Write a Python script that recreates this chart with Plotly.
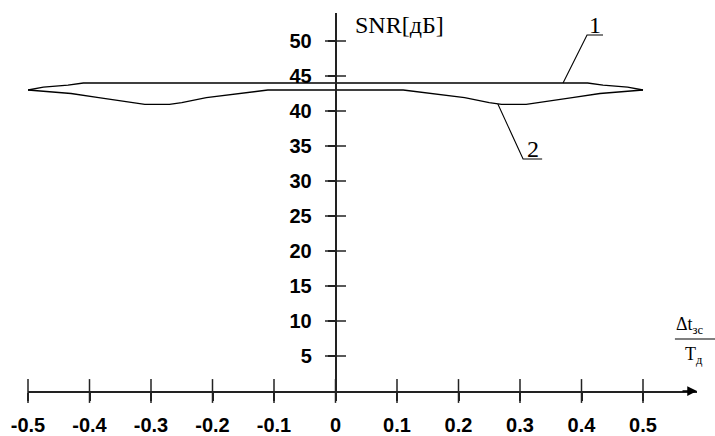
import plotly.graph_objects as go

# ---- data ----
x_line1 = [-0.5, -0.475, -0.435, -0.41, 0.41, 0.435, 0.475, 0.5]
snr_line1 = [43.0, 43.4, 43.7, 44.0, 44.0, 43.7, 43.4, 43.0]

x_line2 = [-0.5, -0.475, -0.43, -0.385, -0.34, -0.31, -0.27, -0.25, -0.21, -0.16, -0.135, -0.11,
           0.11, 0.135, 0.16, 0.21, 0.25, 0.27, 0.31, 0.34, 0.385, 0.43, 0.475, 0.5]
snr_line2 = [43.0, 42.8, 42.5, 41.9, 41.3, 40.95, 40.95, 41.2, 41.9, 42.4, 42.7, 43.0,
             43.0, 42.7, 42.4, 41.9, 41.2, 40.95, 40.95, 41.3, 41.9, 42.5, 42.8, 43.0]

x_ticks = [-0.5, -0.4, -0.3, -0.2, -0.1, 0, 0.1, 0.2, 0.3, 0.4, 0.5]
x_ticktext = ["-0.5", "-0.4", "-0.3", "-0.2", "-0.1", "0", "0.1", "0.2", "0.3", "0.4", "0.5"]
y_ticks = [5, 10, 15, 20, 25, 30, 35, 40, 45, 50]
y_ticktext = [str(v) for v in y_ticks]

# callout labels: (anchor on curve, elbow, underline end)
callout1_x = [0.37, 0.409, 0.435]
callout1_y = [44.0, 50.86, 50.86]
callout2_x = [0.264, 0.305, 0.336]
callout2_y = [41.0, 33.14, 33.14]

X_RANGE = [-0.5, 0.5878]
Y_RANGE = [0, 54]
Y_AXIS_POS = (0 - X_RANGE[0]) / (X_RANGE[1] - X_RANGE[0])

AX_COLOR = "#222222"
tickfont = dict(family="Liberation Sans, Arial", size=20, color="black", weight="bold")
serif = "Liberation Serif, Times New Roman"

fig = go.Figure()
fig.add_trace(go.Scatter(x=x_line1, y=snr_line1, mode="lines",
                         line=dict(color="black", width=1.3), showlegend=False))
fig.add_trace(go.Scatter(x=x_line2, y=snr_line2, mode="lines",
                         line=dict(color="black", width=1.3), showlegend=False))
fig.add_trace(go.Scatter(x=callout1_x + [None] + callout2_x,
                         y=callout1_y + [None] + callout2_y, mode="lines",
                         line=dict(color="black", width=1.1), showlegend=False))
# crossing tick marks on both axes
fig.add_trace(go.Scatter(x=x_ticks, y=[0] * len(x_ticks), mode="markers", cliponaxis=False,
                         marker=dict(symbol="line-ns", size=17,
                                     line=dict(color=AX_COLOR, width=1.5)),
                         showlegend=False, hoverinfo="skip"))
fig.add_trace(go.Scatter(x=[0] * len(y_ticks), y=y_ticks, mode="markers", cliponaxis=False,
                         marker=dict(symbol="line-ew", size=15,
                                     line=dict(color=AX_COLOR, width=1.5)),
                         showlegend=False, hoverinfo="skip"))

fig.update_layout(
    width=715, height=436,
    margin=dict(l=28, r=18, t=13, b=45),
    paper_bgcolor="white", plot_bgcolor="white",
    xaxis=dict(range=X_RANGE, showline=True, linecolor=AX_COLOR, linewidth=1.5,
               ticks="outside", ticklen=8, tickwidth=1.5, tickcolor=AX_COLOR,
               tickvals=x_ticks, ticktext=x_ticktext, tickfont=tickfont,
               ticklabelstandoff=7, showgrid=False, zeroline=False, automargin=False),
    yaxis=dict(range=Y_RANGE, anchor="free", position=Y_AXIS_POS, showline=True,
               linecolor=AX_COLOR, linewidth=1.5, ticks="outside", ticklen=7,
               tickwidth=1.5, tickcolor=AX_COLOR, tickvals=y_ticks, ticktext=y_ticktext,
               tickfont=tickfont, ticklabelstandoff=12, showgrid=False, zeroline=False,
               automargin=False),
)

ann = []
# axis arrows
ann.append(dict(x=0, y=Y_RANGE[1] + 0.2, xref="x", yref="y", ax=0, ay=16, text="",
                showarrow=True, arrowhead=2, arrowsize=1.3, arrowwidth=1.5, arrowcolor="black"))
ann.append(dict(x=X_RANGE[1], y=0, xref="x", yref="y", ax=-16, ay=0, text="",
                showarrow=True, arrowhead=2, arrowsize=1.3, arrowwidth=1.5, arrowcolor="black"))
# y title
ann.append(dict(x=0.028, y=52.3, xref="x", yref="y", text="SNR[дБ]", showarrow=False,
                xanchor="left", yanchor="middle", font=dict(family=serif, size=24, color="black")))
# callout numbers
ann.append(dict(x=(callout1_x[1] + callout1_x[2]) / 2, y=callout1_y[2], xref="x", yref="y",
                text="1", showarrow=False, xanchor="center", yanchor="bottom", yshift=-5,
                font=dict(family=serif, size=24, color="black")))
ann.append(dict(x=(callout2_x[1] + callout2_x[2]) / 2, y=callout2_y[2], xref="x", yref="y",
                text="2", showarrow=False, xanchor="center", yanchor="bottom", yshift=-5,
                font=dict(family=serif, size=24, color="black")))
# x axis label (fraction)
ann.append(dict(x=0.965, y=0.1376, xref="paper", yref="paper", text="Δt<sub>зс</sub>",
                showarrow=False, xanchor="left", yanchor="bottom", yshift=0,
                font=dict(family=serif, size=18, color="black")))
ann.append(dict(x=0.979, y=0.1376, xref="paper", yref="paper", text="T<sub>д</sub>",
                showarrow=False, xanchor="left", yanchor="top", yshift=-3,
                font=dict(family=serif, size=18, color="black")))
fig.update_layout(annotations=ann)
fig.add_shape(type="line", xref="paper", yref="paper", x0=0.967, x1=1.027,
              y0=0.1376, y1=0.1376, line=dict(color="black", width=1.2))

fig.write_html("out.html", config={"displayModeBar": False},
               post_script="document.body.style.margin='0';document.body.style.padding='0';")
